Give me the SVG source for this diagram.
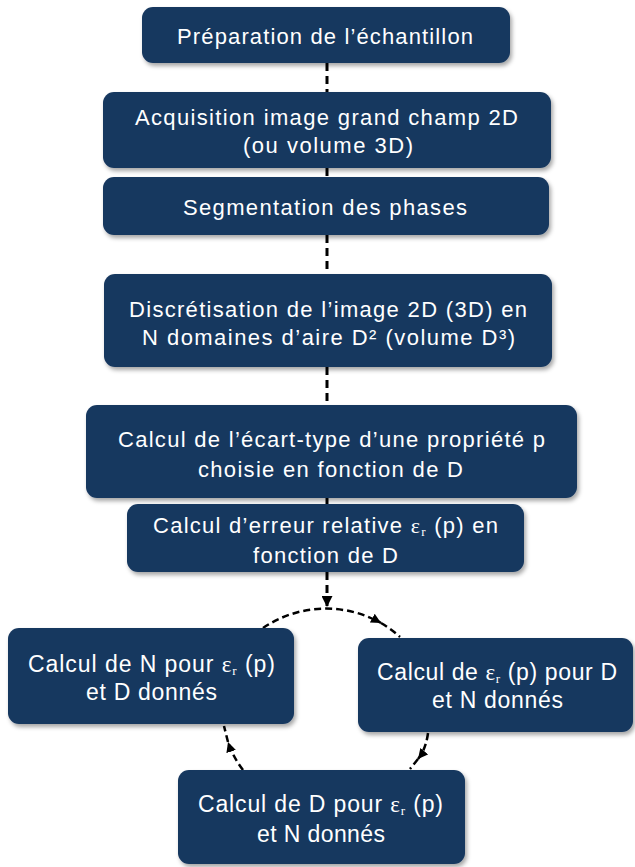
<svg xmlns="http://www.w3.org/2000/svg" width="635" height="867" viewBox="0 0 635 867">
<defs>
<filter id="sh" x="-10%" y="-10%" width="120%" height="130%">
<feDropShadow dx="2" dy="3" stdDeviation="2" flood-color="#000" flood-opacity="0.35"/>
</filter>
<marker id="ah" viewBox="0 0 10 10" refX="10" refY="5" markerWidth="11" markerHeight="11" markerUnits="userSpaceOnUse" orient="auto"><path d="M0,0 L10,5 L0,10 z" fill="#000"/></marker>
<marker id="as" viewBox="0 0 10 10" refX="10" refY="5" markerWidth="10" markerHeight="10" markerUnits="userSpaceOnUse" orient="auto"><path d="M0,0 L10,5 L0,10 z" fill="#000"/></marker>
<style>
.b{fill:#17375e;filter:url(#sh)}
.t{fill:#fff;font-family:"Liberation Sans",Arial,sans-serif;font-size:22px;text-anchor:middle}
.n{fill:#fff;font-family:"Liberation Sans",Arial,sans-serif;font-size:23px;text-anchor:middle}
.g{font-family:"Liberation Serif","Times New Roman",serif}
.s{font-family:"Liberation Serif","Times New Roman",serif;font-size:13px}
.v{fill:none;stroke:#000;stroke-width:3;stroke-dasharray:8 5}
.c{fill:none;stroke:#000;stroke-width:2.5;stroke-dasharray:7 4}
</style>
</defs>
<g id="connectors">
<path class="v" d="M327 63 V92"/>
<path class="v" d="M327 168 V177"/>
<path class="v" d="M327 235 V274"/>
<path class="v" d="M327 367 V405"/>
<path class="v" d="M327 498 V504"/>
<path class="v" d="M327 572 V607" marker-end="url(#ah)"/>
<path class="c" d="M263 628 A112 112 0 0 1 381 623" marker-end="url(#as)"/>
<path class="c" d="M381 623 A112 112 0 0 1 400 637"/>
<path class="c" d="M428 733 Q426 749 418 759" marker-end="url(#as)"/>
<path class="c" d="M418 759 L410 769"/>
<path class="c" d="M243 770 Q233 757 228 742" marker-end="url(#as)"/>
<path class="c" d="M228 742 L224 726"/>
</g>
<g id="n1"><rect class="b" x="142" y="7" width="368" height="56" rx="11"/>
<text class="t" x="325" y="44" textLength="296" lengthAdjust="spacing">Préparation de l’échantillon</text></g>
<g id="n2"><rect class="b" x="103" y="92" width="448" height="76" rx="11"/>
<text class="t" x="326.5" y="125" textLength="383" lengthAdjust="spacing">Acquisition image grand champ 2D</text>
<text class="t" x="328" y="153" textLength="170" lengthAdjust="spacing">(ou volume 3D)</text></g>
<g id="n3"><rect class="b" x="103" y="177" width="446" height="58" rx="11"/>
<text class="t" x="325" y="215" textLength="284" lengthAdjust="spacing">Segmentation des phases</text></g>
<g id="n4"><rect class="b" x="104" y="274" width="448" height="93" rx="11"/>
<text class="t" x="328" y="317" textLength="398" lengthAdjust="spacing">Discrétisation de l’image 2D (3D) en</text>
<text class="t" x="328.5" y="345" textLength="373" lengthAdjust="spacing">N domaines d’aire D² (volume D³)</text></g>
<g id="n5"><rect class="b" x="86" y="405" width="491" height="93" rx="11"/>
<text class="t" x="331.5" y="447" textLength="427" lengthAdjust="spacing">Calcul de l’écart-type d’une propriété p</text>
<text class="t" x="330.5" y="477" textLength="265" lengthAdjust="spacing">choisie en fonction de D</text></g>
<g id="n6"><rect class="b" x="127" y="504" width="397" height="68" rx="11"/>
<text class="t" x="325.5" y="533" textLength="345" lengthAdjust="spacing">Calcul d’erreur relative <tspan class="g">ε</tspan><tspan class="s" dy="3">r</tspan><tspan dy="-3"> (p) en</tspan></text>
<text class="t" x="325.5" y="563" textLength="145" lengthAdjust="spacing">fonction de D</text></g>
<g id="n7"><rect class="b" x="8" y="628" width="286" height="96" rx="11"/>
<text class="n" x="151.5" y="672" textLength="247" lengthAdjust="spacing">Calcul de N pour <tspan class="g">ε</tspan><tspan class="s" dy="3">r</tspan><tspan dy="-3"> (p)</tspan></text>
<text class="n" x="151.5" y="700" textLength="131" lengthAdjust="spacing">et D donnés</text></g>
<g id="n8"><rect class="b" x="358" y="638" width="275" height="94" rx="11"/>
<text class="n" x="497" y="680" textLength="240" lengthAdjust="spacing">Calcul de <tspan class="g">ε</tspan><tspan class="s" dy="3">r</tspan><tspan dy="-3"> (p) pour D</tspan></text>
<text class="n" x="497.5" y="708" textLength="131" lengthAdjust="spacing">et N donnés</text></g>
<g id="n9"><rect class="b" x="178" y="770" width="287" height="94" rx="11"/>
<text class="n" x="320.5" y="812" textLength="245" lengthAdjust="spacing">Calcul de D pour <tspan class="g">ε</tspan><tspan class="s" dy="3">r</tspan><tspan dy="-3"> (p)</tspan></text>
<text class="n" x="321" y="842" textLength="128" lengthAdjust="spacing">et N donnés</text></g>
</svg>
